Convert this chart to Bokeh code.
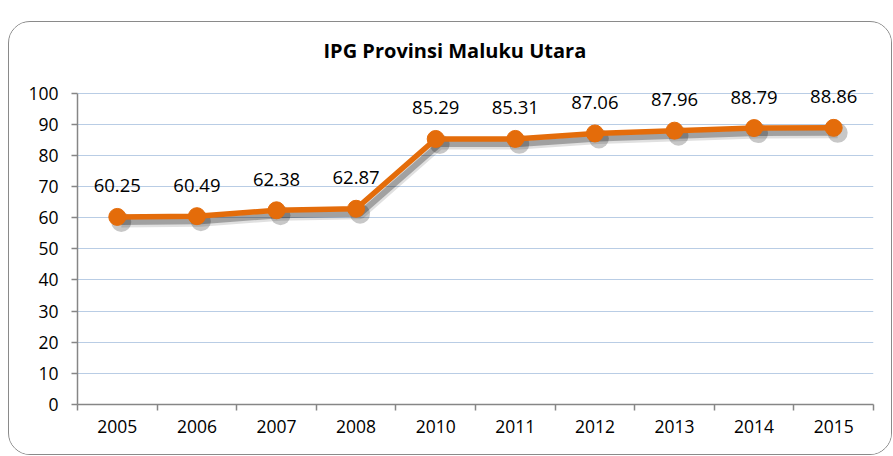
from bokeh.plotting import figure
from bokeh.models import FixedTicker, ColumnDataSource, LabelSet
from bokeh.core.properties import value
from bokeh.embed import file_html
from bokeh.resources import INLINE

years = ["2005", "2006", "2007", "2008", "2010", "2011", "2012", "2013", "2014", "2015"]
ipg = [60.25, 60.49, 62.38, 62.87, 85.29, 85.31, 87.06, 87.96, 88.79, 88.86]
y_ticks = list(range(0, 101, 10))
title_text = "IPG Provinsi Maluku Utara"

pos = [i + 0.5 for i in range(len(years))]
labels = ["%.2f" % v for v in ipg]
src = ColumnDataSource(dict(x=pos, y=ipg, lab=labels))

# shadow offset (data units, approx 4px right / 5px down)
sdx, sdy = 0.05, -1.6
shadow = ColumnDataSource(dict(x=[v + sdx for v in pos], y=[v + sdy for v in ipg]))

FONT = "Open Sans"
p = figure(width=884, height=434, x_range=(0, len(years)), y_range=(0, 106),
           output_backend="svg", toolbar_location=None,
           min_border_left=68, min_border_right=20, min_border_top=52, min_border_bottom=52)
p.styles = {"border": "1.3px solid #8a8a8a", "border-radius": "22px",
            "margin-top": "21px", "margin-left": "8px", "box-sizing": "border-box",
            "overflow": "hidden"}
p.outline_line_color = None
p.background_fill_color = "white"
p.border_fill_color = "white"

p.title.text = title_text
p.title.align = "left"
p.title.offset = 246
p.title.text_font = FONT
p.title.text_font_style = "bold"
p.title.text_font_size = "20px"
p.title.text_color = "black"
p.title.standoff = 22

# axes
xa = p.xaxis[0]
xa.ticker = FixedTicker(ticks=pos, minor_ticks=list(range(len(years) + 1)))
xa.major_label_overrides = {pv: yr for pv, yr in zip(pos, years)}
xa.major_tick_line_alpha = 0
xa.major_tick_in = 0
xa.major_tick_out = 6
xa.minor_tick_in = 0
xa.minor_tick_out = 6
xa.minor_tick_line_color = "#868686"
xa.minor_tick_line_width = 1.5
xa.axis_line_color = "#868686"
xa.axis_line_width = 1.5
xa.major_label_standoff = 9
xa.major_label_text_font = FONT
xa.major_label_text_font_size = "17.5px"
xa.major_label_text_color = "black"

ya = p.yaxis[0]
ya.ticker = FixedTicker(ticks=y_ticks)
ya.bounds = (0, 100)
ya.major_tick_in = 0
ya.major_tick_out = 6
ya.major_tick_line_color = "#868686"
ya.major_tick_line_width = 1.5
ya.minor_tick_line_alpha = 0
ya.axis_line_color = "#868686"
ya.axis_line_width = 1.5
ya.major_label_standoff = 13
ya.major_label_text_font = FONT
ya.major_label_text_font_size = "17.5px"
ya.major_label_text_color = "black"

p.xgrid.visible = False
p.ygrid.ticker = FixedTicker(ticks=y_ticks)
p.ygrid.grid_line_color = "#B9CDE5"
p.ygrid.grid_line_width = 1.2

# shadow
p.line("x", "y", source=shadow, line_color="black", line_alpha=0.12, line_width=11)
p.line("x", "y", source=shadow, line_color="black", line_alpha=0.28, line_width=6)
p.scatter("x", "y", source=shadow, size=20, fill_color="black", fill_alpha=0.22, line_color=None)

# series
p.line("x", "y", source=src, line_color="#E46C0A", line_width=5.5)
p.scatter("x", "y", source=src, size=17, fill_color="#E46C0A", line_color="#E46C0A")

ls = LabelSet(x="x", y="y", text="lab", source=src, y_offset=31,
              text_align="center", text_baseline="middle",
              text_font=value(FONT), text_font_size=value("18.5px"), text_color="black")
p.add_layout(ls)

open("out.html", "w").write(file_html(p, INLINE))
